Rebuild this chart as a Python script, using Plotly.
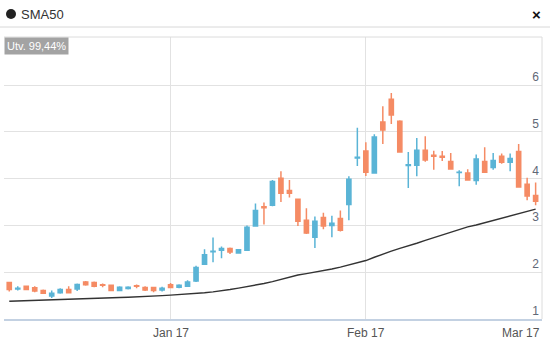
import pandas as pd
import plotly.graph_objects as go

# Trading days (Oslo Børs, weekdays) from 21 Dec 2016 to 17 Mar 2017
dates = [d.strftime("%Y-%m-%d") for d in pd.bdate_range("2016-12-21", "2017-03-17")]

open_ = [1.78, 1.64, 1.70, 1.67, 1.61, 1.49, 1.56, 1.63, 1.64, 1.79,
         1.78, 1.73, 1.72, 1.61, 1.65, 1.71, 1.675, 1.675, 1.62, 1.73,
         1.68, 1.70, 1.81, 2.17, 2.44, 2.47, 2.51, 2.41, 2.47, 2.99,
         3.40, 3.43, 4.01, 3.75, 3.56, 3.11, 2.75, 3.17, 3.00, 3.15,
         3.45, 4.44, 4.59, 4.12, 5.21, 5.70, 5.23, 4.28, 4.29, 4.61,
         4.50, 4.48, 4.37, 4.13, 4.12, 3.96, 4.37, 4.24, 4.48, 4.35,
         4.58, 3.88, 3.64]
high = [1.78, 1.70, 1.70, 1.70, 1.63, 1.61, 1.66, 1.70, 1.76, 1.81,
        1.80, 1.76, 1.72, 1.70, 1.70, 1.74, 1.70, 1.675, 1.69, 1.77,
        1.745, 1.83, 2.14, 2.49, 2.745, 2.55, 2.53, 2.49, 3.00, 3.47,
        3.49, 3.97, 4.16, 3.97, 3.56, 3.37, 3.19, 3.27, 3.21, 3.32,
        4.05, 5.09, 4.78, 4.95, 5.55, 5.83, 5.25, 4.57, 4.87, 4.91,
        4.60, 4.59, 4.55, 4.18, 4.20, 4.52, 4.67, 4.55, 4.54, 4.54,
        4.74, 4.02, 3.92]
low = [1.59, 1.61, 1.62, 1.57, 1.55, 1.45, 1.54, 1.55, 1.60, 1.71,
       1.68, 1.68, 1.61, 1.60, 1.63, 1.66, 1.60, 1.57, 1.59, 1.66,
       1.66, 1.69, 1.79, 2.17, 2.215, 2.30, 2.39, 2.40, 2.47, 2.99,
       3.02, 3.41, 3.50, 3.60, 2.99, 2.82, 2.52, 2.92, 2.75, 2.87,
       3.11, 4.27, 4.06, 4.12, 4.74, 5.17, 4.57, 3.80, 4.05, 4.36,
       4.19, 4.38, 4.21, 3.84, 3.97, 3.87, 4.14, 4.19, 4.32, 4.16,
       3.82, 3.54, 3.43]
close = [1.63, 1.66, 1.63, 1.60, 1.55, 1.55, 1.63, 1.56, 1.74, 1.73,
         1.70, 1.72, 1.61, 1.68, 1.68, 1.70, 1.62, 1.61, 1.66, 1.675,
         1.72, 1.79, 2.10, 2.375, 2.45, 2.51, 2.43, 2.48, 2.96, 3.32,
         3.38, 3.94, 3.69, 3.69, 3.09, 2.84, 3.09, 2.99, 3.045, 2.90,
         3.99, 4.46, 4.14, 4.89, 5.04, 5.36, 4.57, 4.30, 4.61, 4.40,
         4.48, 4.46, 4.21, 4.14, 3.97, 4.42, 4.14, 4.39, 4.35, 4.43,
         3.82, 3.63, 3.52]
sma50 = [1.38, 1.385, 1.39, 1.395, 1.40, 1.41, 1.415, 1.42, 1.425, 1.43,
         1.44, 1.445, 1.45, 1.46, 1.465, 1.47, 1.48, 1.49, 1.50, 1.51,
         1.52, 1.53, 1.545, 1.56, 1.58, 1.60, 1.63, 1.66, 1.69, 1.73,
         1.76, 1.80, 1.85, 1.90, 1.94, 1.97, 2.00, 2.04, 2.07, 2.11,
         2.16, 2.20, 2.25, 2.32, 2.39, 2.45, 2.51, 2.56, 2.62, 2.68,
         2.74, 2.80, 2.86, 2.92, 2.97, 3.01, 3.06, 3.11, 3.16, 3.21,
         3.26, 3.31, 3.35]

tick_dates = ["2017-01-17", "2017-02-17", "2017-03-17"]
tick_text = ["Jan 17", "Feb 17", "Mar 17"]
y_ticks = [1, 2, 3, 4, 5, 6]

UP = "#5ab4d6"
DOWN = "#f58b64"
GRID = "#e2e2e2"

W, H = 550, 348
ML, MR, MT, MB = 4, 8, 37, 29
PW, PH = W - ML - MR, H - MT - MB


def px_x(p):
    return (p - ML) / PW


def px_y(p):
    return (H - MB - p) / PH


fig = go.Figure()
fig.add_trace(go.Candlestick(
    x=dates, open=open_, high=high, low=low, close=close,
    increasing=dict(line=dict(color=UP, width=1.5), fillcolor=UP),
    decreasing=dict(line=dict(color=DOWN, width=1.5), fillcolor=DOWN),
    whiskerwidth=0, showlegend=False, hoverinfo="skip",
))
fig.add_trace(go.Scatter(
    x=dates, y=sma50, mode="lines", line=dict(color="#333333", width=1.4),
    showlegend=False, hoverinfo="skip",
))

fig.update_layout(
    width=W, height=H, margin=dict(l=ML, r=MR, t=MT, b=MB),
    paper_bgcolor="white", plot_bgcolor="white",
    font=dict(family="Liberation Sans, Arial, sans-serif", size=12, color="#555555"),
    showlegend=False,
    xaxis=dict(
        type="category", range=[-0.62, 62.75], rangeslider=dict(visible=False),
        tickvals=tick_dates, ticktext=["", "", ""], showgrid=True, gridcolor=GRID,
        gridwidth=1, showline=True, linecolor="#c3d1e2", linewidth=1.5,
        ticks="", zeroline=False, fixedrange=True,
    ),
    yaxis=dict(
        range=[1, 7.03], tickvals=y_ticks, side="right", ticklabelposition="inside top",
        showgrid=True, gridcolor=GRID, gridwidth=1, ticks="", zeroline=False,
        showline=False, tickfont=dict(size=12, color="#5f6877"), fixedrange=True,
    ),
)

# Frame: top and right edges of the plot area
fig.add_shape(type="line", xref="paper", yref="paper", x0=0, x1=1, y0=1, y1=1,
              line=dict(color="#dcdcdc", width=1))
fig.add_shape(type="line", xref="paper", yref="paper", x0=1, x1=1, y0=0, y1=1,
              line=dict(color="#dcdcdc", width=1))
# Header separator
fig.add_shape(type="line", xref="paper", yref="paper", x0=px_x(0), x1=px_x(W),
              y0=px_y(27), y1=px_y(27), line=dict(color="#d8d8d8", width=1))

# Date labels below the axis
for d, t in zip(tick_dates, tick_text):
    last = d == tick_dates[-1]
    fig.add_annotation(
        x=1 if last else d, xref="paper" if last else "x",
        y=px_y(333), yref="paper", text=t, showarrow=False,
        xanchor="right" if last else "center", yanchor="middle",
        font=dict(size=12, color="#555555"),
    )

# Header: series marker dot, name and close mark
fig.add_shape(type="circle", xref="paper", yref="paper",
              x0=px_x(6), x1=px_x(16), y0=px_y(19), y1=px_y(9),
              fillcolor="#222222", line=dict(width=0))
fig.add_annotation(x=px_x(19), y=px_y(14), xref="paper", yref="paper", text="SMA50",
                   showarrow=False, xanchor="left", yanchor="middle",
                   font=dict(size=13, color="#333333"))
fig.add_annotation(x=px_x(543), y=px_y(14), xref="paper", yref="paper", text="<b>×</b>",
                   showarrow=False, xanchor="right", yanchor="middle",
                   font=dict(size=15, color="#111111"))

# Performance badge
fig.add_annotation(x=0, y=1, xref="paper", yref="paper", text="Utv. 99,44%",
                   showarrow=False, xanchor="left", yanchor="top",
                   bgcolor="#a3a3a3", borderpad=2,
                   font=dict(size=11, color="white"))

fig.write_html("out.html")
